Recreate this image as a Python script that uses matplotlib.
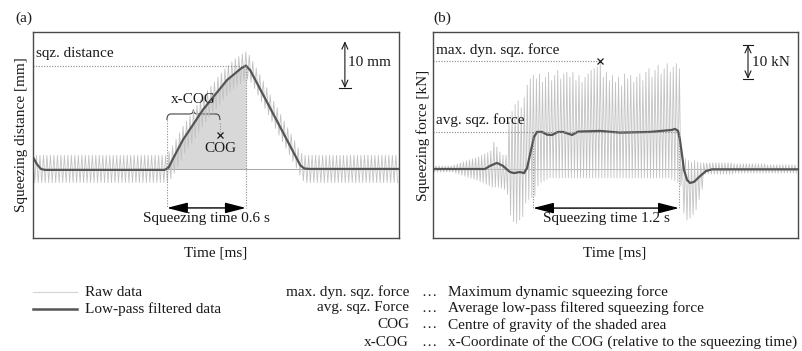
import numpy as np
import matplotlib.pyplot as plt
from matplotlib.path import Path
from matplotlib.patches import PathPatch
from matplotlib.lines import Line2D

plt.rcParams['font.family'] = ['Liberation Serif', 'DejaVu Serif']
plt.rcParams['font.size'] = 11

# ---- panel (a): squeezing distance ----
time_a = [0, 30, 60, 90, 1000, 1030, 1060, 1139, 1291, 1473, 1580, 1617,
          1650, 2000, 2030, 2060, 2100, 2780]
dist_a = [2.5, 1.0, 0.0, -0.2, -0.2, 0.3, 2.0, 6.2, 12.6, 18.9, 21.4, 22.0,
          21.0, 2.4, 0.8, 0.1, 0.0, 0.0]
raw_a_period = 26.5
raw_a_amp = 2.9
raw_a_center = ([0.0] * 38 +
                [0.0, 0.8, 2.0, 3.4, 4.8, 6.2, 7.3, 8.4, 9.5, 10.7, 11.8, 12.9,
                 13.8, 14.7, 15.6, 16.6, 17.5, 18.4, 19.2, 19.9, 20.5, 21.0,
                 21.6, 22.0] +
                [21.3, 20.0, 18.6, 17.2, 15.8, 14.4, 12.9, 11.5, 10.1, 8.7, 7.3,
                 5.9, 4.5, 3.1, 1.6, 0.4] +
                [0.0] * 27)
sqz_start_a, sqz_end_a = 1017, 1617
sqz_dist = 22.0
cog_x, cog_y = 1420, 7.2

# ---- panel (b): squeezing force ----
time_b = [0, 427, 468, 526, 575, 633, 666, 715, 748, 773, 806, 830, 855, 896,
          937, 978, 1027, 1068, 1143, 1192, 1373, 1537, 1784, 1965, 1989, 2014,
          2030, 2047, 2063, 2088, 2112, 2145, 2195, 2244, 2293, 3000]
force_b = [0, 0, 0.9, 1.8, 0.9, -0.9, -1.2, -0.9, -1.2, 0.3, 5.6, 9.4, 10.9,
           10.9, 10.1, 10.0, 10.9, 10.9, 10.0, 11.0, 11.2, 10.7, 10.9, 11.5,
           11.8, 11.2, 8.5, 4.1, -0.3, -3.2, -4.1, -3.8, -2.1, -0.6, -0.1, -0.1]
raw_b_period = 25.0
raw_b_top = ([0.9] * 7 +
             [1.2, 1.5, 1.8, 2.1, 2.4, 2.7, 3.0, 3.3, 3.6, 4.0, 4.4, 4.8, 5.3] +
             [7.9] +
             [6.5, 5.0, 4.1, 4.1] +
             [14.0, 17.0, 19.0, 20.0, 18.0] +
             [21.0, 24.7, 26.5, 27.6] +
             [26.5, 28.0, 25.5, 27.0, 28.5, 26.0, 27.5, 29.0, 26.5, 28.0, 28.5,
              27.0, 28.5, 26.0, 27.5, 25.5, 27.0, 28.0, 29.0, 29.5, 30.0, 31.8,
              27.0, 28.5, 26.0, 27.5, 25.5, 27.0, 24.5, 28.0, 26.5, 27.5, 25.5,
              27.0, 28.0, 26.0, 28.5, 29.5, 27.0, 29.0, 30.5, 28.0, 29.5, 31.0,
              28.5, 30.0, 31.0, 29.5] +
             [2.5, 3.0, 2.5, 2.0, 2.5, 2.0, 1.8] +
             [1.8] * 10 + [1.5] * 11 + [1.2] * 10)
raw_b_bot = ([-0.9] * 7 +
             [-1.2, -1.5, -1.8, -2.1, -2.4, -2.7, -3.0, -3.3, -3.7, -4.1, -4.5,
              -4.9, -5.3] +
             [-5.3] +
             [-5.3, -5.6, -6.0, -7.5] +
             [-13.5, -15.5, -16.0, -15.0, -14.0] +
             [-10.0, -9.0, -8.5, -8.0] +
             [-5.0, -4.0, -3.5, -3.0] + [-2.6] * 40 + [-3.0, -3.5, -4.0, -5.0] +
             [-13.0, -15.0, -14.5, -13.5, -12.0, -9.0, -6.0] +
             [-1.5] * 10 + [-1.2] * 21)
sqz_start_b, sqz_end_b = 822, 2022
avg_force = 10.9
max_force, max_force_t = 31.8, 1373

RAW = '#c2c2c2'
FILT = '#555555'
DOT = '#8a8a8a'
INK = '#1a1a1a'
DOTTED = (0, (1, 1.4))

fig = plt.figure(figsize=(8.03, 3.51), dpi=100)
ax_a = fig.add_axes([33 / 803, 1 - 238 / 351, 366 / 803, 206 / 351])
ax_b = fig.add_axes([433 / 803, 1 - 238 / 351, 365 / 803, 206 / 351])


def zigzag(period, top, bot):
    t = np.arange(len(top)) * period
    xs = np.column_stack([t, t + period / 2]).ravel()
    ys = np.column_stack([top, bot]).ravel()
    return xs, ys


def span_arrow(ax, x0, x1, y, label, ty):
    ax.annotate('', xy=(x1, y), xytext=(x0, y),
                arrowprops=dict(arrowstyle='<|-|>,head_length=0.7,head_width=0.18',
                                color='black', lw=1, mutation_scale=18,
                                shrinkA=0, shrinkB=0))
    ax.text((x0 + x1) / 2, ty, label, ha='center', va='center', color=INK)


def scale_bar(ax, x, y0, y1, half, label, bottom_only=False):
    ax.annotate('', xy=(x, y1), xytext=(x, y0),
                arrowprops=dict(arrowstyle='<->,head_length=0.4,head_width=0.18',
                                color=INK, lw=0.8, mutation_scale=12,
                                shrinkA=0, shrinkB=0))
    ax.plot([x - half, x + half], [y0, y0], color=INK, lw=0.8)
    if not bottom_only:
        ax.plot([x - half, x + half], [y1, y1], color=INK, lw=0.8)


# ---------- panel (a) ----------
ax = ax_a
m = [i for i, t in enumerate(time_a) if sqz_start_a - 20 <= t <= sqz_end_a]
ax.fill_between([time_a[i] for i in m], [max(dist_a[i], 0) for i in m], 0,
                color='#d8d8d8', lw=0)
ax.plot([sqz_start_a, time_a[-1]], [0, 0], color='#9a9a9a', lw=0.6)
ra = np.array(raw_a_center)
xs, ys = zigzag(raw_a_period, ra + raw_a_amp, ra - raw_a_amp)
ax.plot(xs, ys, color=RAW, lw=0.6)
ax.plot(time_a, dist_a, color=FILT, lw=1.6)

ax.plot([0, sqz_end_a], [sqz_dist, sqz_dist], ls=DOTTED, color=DOT, lw=0.8)
ax.text(23, 24.5, 'sqz. distance', ha='left', va='center', color=INK)
ax.plot([sqz_end_a, sqz_end_a], [sqz_dist, -8.3], ls=DOTTED, color=DOT, lw=0.8)
ax.plot([sqz_start_a, sqz_start_a], [10.4, -8.3], ls=DOTTED, color=DOT, lw=0.8)
ax.plot([cog_x, cog_x], [9.8, cog_y + 0.6], ls=DOTTED, color=DOT, lw=0.8)
span_arrow(ax, sqz_start_a, sqz_end_a, -8.3, 'Squeezing time 0.6 s', -10.6)

# curly brace for x-COG
xm = (sqz_start_a + cog_x) / 2
yb, ye, yt, r = 11.7, 10.4, 12.6, 30
verts = [(sqz_start_a, ye), (sqz_start_a, yb), (sqz_start_a + r, yb),
         (xm - r, yb), (xm, yb), (xm, yt),
         (xm, yb), (xm + r, yb), (cog_x - r, yb),
         (cog_x, yb), (cog_x, ye)]
codes = [Path.MOVETO, Path.CURVE3, Path.CURVE3, Path.LINETO, Path.CURVE3,
         Path.CURVE3, Path.CURVE3, Path.CURVE3, Path.LINETO, Path.CURVE3,
         Path.CURVE3]
ax.add_patch(PathPatch(Path(verts, codes), fill=False, color='#444444', lw=0.8))
ax.text(xm, 14.7, 'x-COG', ha='center', va='center', color=INK)
ax.plot([cog_x], [cog_y], marker='x', ms=4.5, mew=0.9, color=INK)
ax.text(cog_x, 4.3, 'COG', ha='center', va='center', color=INK)

scale_bar(ax, 2369, 17.2, 27.2, 45, '10 mm', bottom_only=True)
ax.text(2392, 22.6, '10 mm', ha='left', va='center', color=INK)

ax.set_xlim(0, 2780)
ax.set_ylim(-14.7, 29.15)

# ---------- panel (b) ----------
ax = ax_b
ax.axhline(0, color='#a8a8a8', lw=0.6)
xs, ys = zigzag(raw_b_period, raw_b_top, raw_b_bot)
ax.plot(xs, ys, color=RAW, lw=0.6)
ax.plot(time_b, force_b, color=FILT, lw=1.6)

ax.plot([0, max_force_t - 25], [max_force, max_force], ls=DOTTED, color=DOT, lw=0.8)
ax.plot([max_force_t], [max_force], marker='x', ms=4.5, mew=0.9, color=INK)
ax.text(25, 35.0, 'max. dyn. sqz. force', ha='left', va='center', color=INK)
ax.plot([0, sqz_end_b + 10], [avg_force, avg_force], ls=DOTTED, color=DOT, lw=0.8)
ax.text(25, 14.4, 'avg. sqz. force', ha='left', va='center', color=INK)
for x in (sqz_start_b, sqz_end_b):
    ax.plot([x, x], [avg_force, -11.5], ls=DOTTED, color=DOT, lw=0.8)
span_arrow(ax, sqz_start_b, sqz_end_b, -11.5, 'Squeezing time 1.2 s', -14.7)

scale_bar(ax, 2589, 26.5, 36.5, 45, '10 kN')
ax.text(2622, 31.2, '10 kN', ha='left', va='center', color=INK)

ax.set_xlim(0, 3000)
ax.set_ylim(-20.3, 40.3)

for ax in (ax_a, ax_b):
    ax.set_xticks([])
    ax.set_yticks([])
    for s in ax.spines.values():
        s.set_color('#4a4a4a')
        s.set_linewidth(1.0)

fig.text(15 / 803, 1 - 18 / 351, '(a)', ha='left', va='center', color=INK)
fig.text(433 / 803, 1 - 18 / 351, '(b)', ha='left', va='center', color=INK)
fig.text(22 / 803, 1 - 135 / 351, 'Squeezing distance [mm]', rotation=90,
         ha='center', va='center', color=INK)
fig.text(423 / 803, 1 - 135 / 351, 'Squeezing force [kN]', rotation=90,
         ha='center', va='center', color=INK)
fig.text(216 / 803, 1 - 253 / 351, 'Time [ms]', ha='center', va='center', color=INK)
fig.text(615 / 803, 1 - 253 / 351, 'Time [ms]', ha='center', va='center', color=INK)

# legend / glossary
fig.add_artist(Line2D([33 / 803, 77 / 803], [1 - 292 / 351] * 2, color='#d4d4d4', lw=0.8))
fig.add_artist(Line2D([33 / 803, 77 / 803], [1 - 309 / 351] * 2, color=FILT, lw=1.8))
fig.text(85 / 803, 1 - 292 / 351, 'Raw data', va='center', color=INK)
fig.text(85 / 803, 1 - 309 / 351, 'Low-pass filtered data', va='center', color=INK)

terms = ['max. dyn. sqz. force', 'avg. sqz. Force', 'COG', 'x-COG']
descr = ['Maximum dynamic squeezing force',
         'Average low-pass filtered squeezing force',
         'Centre of gravity of the shaded area',
         'x-Coordinate of the COG (relative to the squeezing time)']
rows_y = [292, 308, 325, 342]
for term, d, y in zip(terms, descr, rows_y):
    fy = 1 - y / 351
    fig.text(409 / 803, fy, term, ha='right', va='center', color=INK)
    fig.text(429 / 803, fy, '\u2026', ha='center', va='center', color=INK)
    fig.text(448 / 803, fy, d, ha='left', va='center', color=INK)

fig.savefig('out.png', dpi=100)
